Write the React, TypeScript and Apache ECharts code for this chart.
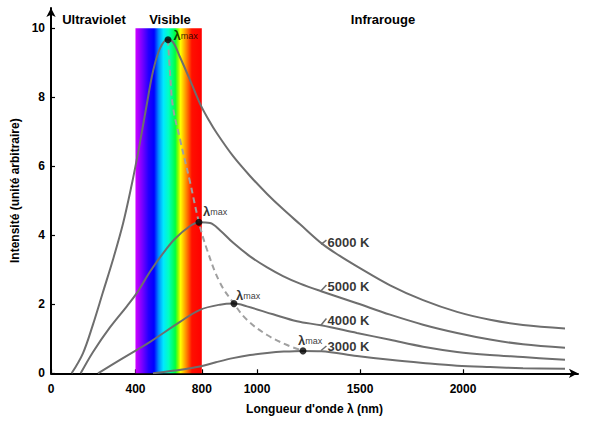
import React, { useEffect, useRef } from "react";
import * as echarts from "echarts";

// ---- axis ticks (positions on the drawn axis, labels as printed) ----
const xTickPositions = [0, 410, 732, 1000, 1500, 2000];
const xTickLabels = ["0", "400", "800", "1000", "1500", "2000"];
const yTicks = [0, 2, 4, 6, 8, 10];
const visibleBand = [410, 732];
const regionNames = ["Ultraviolet", "Visible", "Infrarouge"];

// ---- curves (x on drawn axis, y intensity) ----
const x6000 = [100, 155, 204, 252, 301, 350, 393, 417, 432, 465, 495, 529, 566, 592, 626, 675, 723, 765, 806, 883, 966, 1049, 1126, 1209, 1315, 1400, 1485, 1646, 1806, 1971, 2131, 2291, 2495];
const y6000 = [0, 0.58, 1.42, 2.35, 3.3, 4.35, 5.5, 6.22, 6.7, 7.8, 8.75, 9.42, 9.68, 9.6, 9.17, 8.5, 7.82, 7.35, 6.95, 6.3, 5.72, 5.2, 4.76, 4.32, 3.76, 3.41, 3.1, 2.55, 2.12, 1.78, 1.55, 1.4, 1.3];

const x5000 = [144, 204, 286, 369, 417, 481, 540, 602, 675, 718, 772, 820, 883, 966, 1049, 1126, 1209, 1311, 1485, 1646, 1806, 1971, 2131, 2291, 2495];
const y5000 = [0, 0.62, 1.33, 1.95, 2.33, 2.95, 3.45, 3.9, 4.27, 4.38, 4.36, 4.15, 3.79, 3.39, 3.07, 2.82, 2.6, 2.38, 2.03, 1.7, 1.41, 1.17, 0.98, 0.84, 0.74];

const x4000 = [228, 335, 417, 481, 626, 723, 820, 888, 951, 1078, 1194, 1311, 1485, 1646, 1806, 1971, 2131, 2291, 2495];
const y4000 = [0, 0.39, 0.68, 0.91, 1.49, 1.84, 1.99, 2.02, 1.94, 1.71, 1.51, 1.39, 1.17, 0.97, 0.77, 0.62, 0.53, 0.47, 0.39];

const x3000 = [495, 600, 723, 800, 883, 966, 1049, 1130, 1223, 1311, 1485, 1646, 1806, 1971, 2131, 2291, 2495];
const y3000 = [0, 0.08, 0.2, 0.32, 0.44, 0.53, 0.59, 0.63, 0.65, 0.64, 0.5, 0.39, 0.3, 0.22, 0.18, 0.15, 0.13];

// ---- locus of the maxima (dashed) ----
const xMaxLocus = [568, 578, 592, 626, 675, 718, 757, 820, 888, 951, 1049, 1146, 1223];
const yMaxLocus = [9.67, 8.68, 7.72, 6.79, 5.54, 4.38, 3.59, 2.63, 2.02, 1.55, 1.11, 0.82, 0.65];

// ---- peaks ----
const peakX = [568, 718, 888, 1223];
const peakY = [9.67, 4.38, 2.02, 0.65];

// ---- temperature labels ----
const tempNames = ["6000 K", "5000 K", "4000 K", "3000 K"];
const tempLabelX = 1337;
const tempLabelY = [3.8, 2.53, 1.54, 0.79];
const leaderStartX = 1311;
const leaderStartY = [3.74, 2.39, 1.4, 0.66];
const leaderEndY = [3.86, 2.56, 1.59, 0.79];

const FONT = "'Liberation Sans', Arial, Helvetica, sans-serif";
const CURVE = "#6e6e6e";

const zip = (xs: number[], ys: number[]) => xs.map((x, i) => [x, ys[i]]);

export default function App() {
  const ref = useRef<HTMLDivElement>(null);

  useEffect(() => {
    document.body.style.margin = "0";
    if (!ref.current) return;
    const chart = echarts.init(ref.current, undefined, { renderer: "svg" });

    const curve = (name: string, data: number[][]) => ({
      name,
      type: "line",
      data,
      smooth: 0.35,
      showSymbol: false,
      symbol: "none",
      z: 3,
      lineStyle: { color: CURVE, width: 2 },
    });

    const labelOffsets = [
      [0, -4],
      [-1.5, -10.5],
      [-3.5, -8],
      [-10.5, -10],
    ];

    const option: any = {
      animation: false,
      textStyle: { fontFamily: FONT },
      grid: { left: 51, right: 17, top: 8, bottom: 56.7, containLabel: false },
      xAxis: {
        type: "value",
        min: 0,
        max: 2558,
        name: "Longueur d'onde λ (nm)",
        nameLocation: "middle",
        nameGap: 30,
        nameTextStyle: { fontFamily: FONT, fontWeight: "bold", fontSize: 12, color: "#000" },
        axisLine: {
          show: true,
          onZero: false,
          symbol: ["none", "arrow"],
          symbolSize: [7, 9],
          lineStyle: { color: "#000", width: 2 },
        },
        axisTick: {
          show: true,
          inside: true,
          length: 4,
          customValues: xTickPositions,
          lineStyle: { color: "#000", width: 1.2 },
        },
        axisLabel: {
          customValues: xTickPositions,
          formatter: (v: number) => {
            const i = xTickPositions.indexOf(v);
            return i >= 0 ? xTickLabels[i] : "";
          },
          fontFamily: FONT,
          fontWeight: "bold",
          fontSize: 12,
          color: "#000",
          margin: 10,
        },
        splitLine: { show: false },
      },
      yAxis: {
        type: "value",
        min: 0,
        max: 10.59,
        name: "Intensité (unité arbitraire)",
        nameLocation: "middle",
        nameGap: 25,
        nameTextStyle: { fontFamily: FONT, fontWeight: "bold", fontSize: 12, color: "#000" },
        axisLine: {
          show: true,
          onZero: false,
          symbol: ["none", "arrow"],
          symbolSize: [7, 9],
          lineStyle: { color: "#000", width: 2 },
        },
        axisTick: {
          show: true,
          inside: true,
          length: 4,
          customValues: yTicks,
          lineStyle: { color: "#000", width: 1.2 },
        },
        axisLabel: {
          customValues: yTicks,
          fontFamily: FONT,
          fontWeight: "bold",
          fontSize: 12,
          color: "#000",
          margin: 6,
        },
        splitLine: { show: false },
      },
      graphic: [
        { type: "text", x: 94, y: 19, style: { text: regionNames[0], font: `bold 13px ${FONT}`, fill: "#000", textAlign: "center", textVerticalAlign: "middle" } },
        { type: "text", x: 170, y: 19, style: { text: regionNames[1], font: `bold 13px ${FONT}`, fill: "#000", textAlign: "center", textVerticalAlign: "middle" } },
        { type: "text", x: 383, y: 19, style: { text: regionNames[2], font: `bold 13px ${FONT}`, fill: "#000", textAlign: "center", textVerticalAlign: "middle" } },
      ],
      series: [
        {
          name: "band",
          type: "line",
          data: [],
          z: 1,
          markArea: {
            silent: true,
            label: { show: false },
            itemStyle: {
              color: new echarts.graphic.LinearGradient(0, 0, 1, 0, [
                { offset: 0, color: "#d000ff" },
                { offset: 0.1, color: "#7a00ff" },
                { offset: 0.2, color: "#2000ff" },
                { offset: 0.28, color: "#0000ff" },
                { offset: 0.35, color: "#0090ff" },
                { offset: 0.42, color: "#00e8ff" },
                { offset: 0.5, color: "#00ffc0" },
                { offset: 0.6, color: "#00ff40" },
                { offset: 0.64, color: "#80ff00" },
                { offset: 0.68, color: "#ffff00" },
                { offset: 0.76, color: "#ff9000" },
                { offset: 0.85, color: "#ff1000" },
                { offset: 1, color: "#ff0000" },
              ]),
            },
            data: [[{ coord: [visibleBand[0], 0] }, { coord: [visibleBand[1], 10] }]],
          },
        },
        {
          name: "λmax",
          type: "line",
          data: zip(xMaxLocus, yMaxLocus),
          smooth: 0.4,
          showSymbol: false,
          symbol: "none",
          z: 2,
          lineStyle: { color: "#a0a0a0", width: 2, type: [6, 4] },
        },
        curve("6000 K", zip(x6000, y6000)),
        curve("5000 K", zip(x5000, y5000)),
        curve("4000 K", zip(x4000, y4000)),
        curve("3000 K", zip(x3000, y3000)),
        {
          name: "leaders",
          type: "line",
          data: [],
          markLine: {
            silent: true,
            symbol: "none",
            label: { show: false },
            lineStyle: { color: CURVE, width: 1.5, type: "solid" },
            data: leaderStartY.map((y, i) => [
              { coord: [leaderStartX, y] },
              { coord: [tempLabelX, leaderEndY[i]] },
            ]),
          },
        },
        {
          name: "temperatures",
          type: "scatter",
          symbolSize: 0,
          z: 4,
          data: tempNames.map((n, i) => ({ name: n, value: [tempLabelX, tempLabelY[i]] })),
          label: {
            show: true,
            position: "right",
            distance: 1,
            formatter: (p: any) => p.name,
            fontFamily: FONT,
            fontWeight: "bold",
            fontSize: 13,
            color: "#000",
          },
        },
        {
          name: "peaks",
          type: "scatter",
          symbol: "circle",
          symbolSize: 7,
          z: 5,
          itemStyle: { color: "#000" },
          data: peakX.map((x, i) => ({
            value: [x, peakY[i]],
            label: { offset: labelOffsets[i] },
          })),
          label: {
            show: true,
            position: "right",
            distance: 2,
            formatter: "{l|λ}{s|max}",
            rich: {
              l: { fontFamily: FONT, fontSize: 13, fontWeight: "bold", color: "#000" },
              s: { fontFamily: FONT, fontSize: 9, color: "#000" },
            },
          },
        },
      ],
    };

    chart.setOption(option);
    return () => chart.dispose();
  }, []);

  return <div ref={ref} style={{ width: 595, height: 430 }} />;
}
